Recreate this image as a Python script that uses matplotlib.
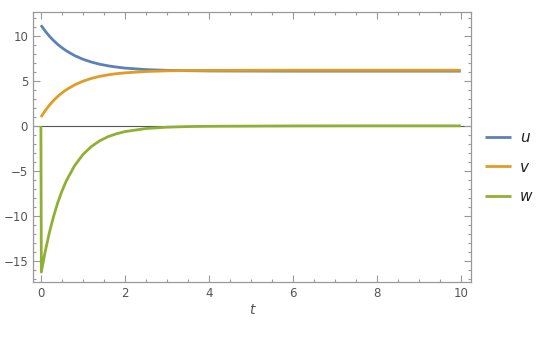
import matplotlib
matplotlib.use("Agg")
import matplotlib.pyplot as plt
from matplotlib.ticker import MultipleLocator

# values
t = [0.0, 0.1, 0.2, 0.3, 0.4, 0.5, 0.6, 0.8, 1.0, 1.2, 1.4, 1.6, 1.8,
     2.0, 2.5, 3.0, 3.5, 4.0, 5.0, 6.0, 8.0, 10.0]
u = [11.2, 10.56, 9.99, 9.50, 9.07, 8.70, 8.37, 7.83, 7.42, 7.11, 6.87, 6.69, 6.55,
     6.44, 6.27, 6.19, 6.15, 6.12, 6.11, 6.10, 6.10, 6.10]
v = [1.0, 1.70, 2.31, 2.84, 3.29, 3.68, 4.02, 4.57, 4.98, 5.29, 5.52, 5.69, 5.82,
     5.91, 6.06, 6.13, 6.17, 6.18, 6.19, 6.20, 6.20, 6.20]
t_w = [0.0, 0.01, 0.1, 0.2, 0.3, 0.4, 0.5, 0.6, 0.8, 1.0, 1.2, 1.4, 1.6, 1.8,
       2.0, 2.5, 3.0, 3.5, 4.0, 5.0, 6.0, 8.0, 10.0]
w = [0.0, -16.2, -13.96, -11.84, -10.04, -8.51, -7.22, -6.12, -4.40, -3.16, -2.27,
     -1.63, -1.17, -0.85, -0.61, -0.27, -0.12, -0.05, -0.02, 0.0, 0.02, 0.03, 0.03]
labels = ["u", "v", "w"]
colors = ["#5e81b5", "#e19c24", "#8fb032"]

fig = plt.figure(figsize=(5.4, 3.41), dpi=100)
ax = fig.add_axes([0.061, 0.173, 0.811, 0.792])

ax.axhline(0, color="#555555", lw=0.8, zorder=1)
for x, y, lab, c in zip([t, t, t_w], [u, v, w], labels, colors):
    ax.plot(x, y, color=c, lw=2.0, label=lab, solid_capstyle="butt", zorder=2)

ax.set_xlim(-0.19, 10.24)
ax.set_ylim(-17.3, 12.67)
ax.xaxis.set_major_locator(MultipleLocator(2))
ax.xaxis.set_minor_locator(MultipleLocator(0.5))
ax.yaxis.set_major_locator(MultipleLocator(5))
ax.yaxis.set_minor_locator(MultipleLocator(1))
ax.tick_params(which="both", direction="in", top=True, right=True,
               color="#999999", labelcolor="#555555", labelsize=8.5, width=0.8)
ax.tick_params(which="major", length=5)
ax.tick_params(which="minor", length=2.5)
for s in ax.spines.values():
    s.set_color("#999999")
    s.set_linewidth(0.9)

ax.set_xlabel("t", style="italic", color="#555555", fontsize=10, labelpad=2)

leg = fig.legend(loc="center left", bbox_to_anchor=(0.898, 0.51),
                 bbox_transform=fig.transFigure, frameon=False, borderpad=0,
                 borderaxespad=0, handlelength=1.7, labelspacing=0.95,
                 fontsize=11, handletextpad=0.6)
for txt in leg.get_texts():
    txt.set_style("italic")
    txt.set_color("#222222")

fig.savefig("out.png", dpi=100)
